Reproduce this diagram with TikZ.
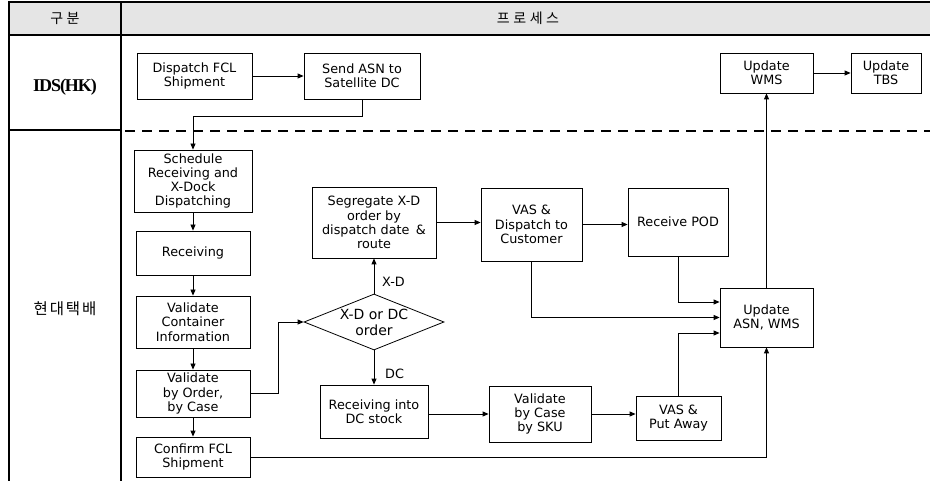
\documentclass[tikz,border=0pt]{standalone}
\usepackage{fontspec}
\setmainfont{DejaVu Sans}
\newfontfamily\krhead[LetterSpace=25]{Noto Sans CJK KR}
\newfontfamily\krrow[LetterSpace=12]{Noto Sans CJK KR}
\newfontfamily\idsfont[LetterSpace=-6]{Liberation Serif}
\usetikzlibrary{shapes.geometric,arrows.meta}
\begin{document}
\begin{tikzpicture}[x=1pt,y=-1pt,
  box/.style={draw, line width=0.8pt, align=center, inner sep=0pt,
    font=\fontsize{12.8}{14.3}\selectfont},
  conn/.style={line width=0.8pt, -{Triangle[length=6pt,width=5pt]}},
  frame/.style={line width=1.6pt},
  lbl/.style={font=\fontsize{12.8}{14}\selectfont, anchor=west, inner sep=0pt}]
\useasboundingbox (0,0) rectangle (930,481);
% table
\fill[gray!20] (8,2) rectangle (930,35);
\draw[frame] (8,2) -- (930,2);
\draw[frame] (8,35) -- (930,35);
\draw[frame] (9,2) -- (9,481);
\draw[frame] (121,2) -- (121,481);
\draw[frame] (9,130) -- (121,130);
\draw[line width=1.6pt, dash pattern=on 10pt off 7pt] (125,131) -- (930,131);
\node[font=\krhead\fontsize{14}{14}\selectfont] (h1) at (65,18) {구분};
\node[font=\krhead\fontsize{14}{14}\selectfont] (h2) at (528,18) {프로세스};
\node[font=\idsfont\bfseries\fontsize{18}{18}\selectfont] (ids) at (65,87) {IDS(HK)};
\node[font=\krrow\fontsize{15.5}{15.5}\selectfont] (hd) at (65,309) {현대택배};
% nodes
\node[box, minimum width=115pt, minimum height=46pt] (d1) at (194.5,76) {Dispatch FCL\\Shipment};
\node[box, minimum width=116pt, minimum height=46pt] (d2) at (362,76) {Send ASN to\\Satellite DC};
\node[box, minimum width=93pt, minimum height=40pt] (uw) at (766.5,73) {Update\\WMS};
\node[box, minimum width=70pt, minimum height=40pt] (ut) at (886,73) {Update\\TBS};
\node[box, minimum width=118pt, minimum height=62pt] (sch) at (193,181) {Schedule\\Receiving and\\X-Dock\\Dispatching};
\node[box, minimum width=114pt, minimum height=44pt] (rcv) at (193,253) {Receiving};
\node[box, minimum width=114pt, minimum height=52pt] (vci) at (193,322) {Validate\\Container\\Information};
\node[box, minimum width=114pt, minimum height=47pt] (vbo) at (193,393.5) {Validate\\by Order,\\by Case};
\node[box, minimum width=114pt, minimum height=40pt] (cfm) at (193,457) {Confirm FCL\\Shipment};
\node[box, minimum width=124pt, minimum height=71pt] (seg) at (374,222.5) {Segregate X-D\\order by\\dispatch date\enspace\&\\route};
\node[draw, diamond, aspect=2.5, line width=0.8pt, inner sep=0pt, align=center,
  minimum width=140pt, minimum height=56pt, font=\fontsize{14}{16}\selectfont] (dia) at (374,322) {X-D or DC\\order};
\node[box, minimum width=108pt, minimum height=53pt] (rdc) at (374,411.5) {Receiving into\\DC stock};
\node[box, minimum width=101pt, minimum height=73pt] (vdc) at (531.5,224.5) {VAS \&\\Dispatch to\\Customer};
\node[box, minimum width=100pt, minimum height=68pt] (pod) at (678,222) {Receive POD};
\node[box, minimum width=93pt, minimum height=59pt] (uasn) at (766.5,317.5) {Update\\ASN, WMS};
\node[box, minimum width=102pt, minimum height=56pt] (vcs) at (540,414) {Validate\\by Case\\by SKU};
\node[box, minimum width=85pt, minimum height=44pt] (vpa) at (678.5,418) {VAS \&\\Put Away};
\node[lbl] (lxd) at (382,282) {X-D};
\node[lbl] (ldc) at (385,374) {DC};
% connectors
\coordinate (k1) at (362,116);
\coordinate (k2) at (278,393.5);
\draw[conn] (d1.east) -- (d2.west);
\draw[conn] (d2.south) -- (k1) -| (sch.north);
\draw[conn] (sch.south) -- (rcv.north);
\draw[conn] (rcv.south) -- (vci.north);
\draw[conn] (vci.south) -- (vbo.north);
\draw[conn] (vbo.south) -- (cfm.north);
\draw[conn] (vbo.east) -- (k2) |- (dia.west);
\draw[conn] (dia.north) -- (seg.south);
\draw[conn] (dia.south) -- (rdc.north);
\draw[conn] (seg.east) -- (seg.east -| vdc.west);
\draw[conn] (vdc.east) -- (vdc.east -| pod.west);
\draw[conn] (pod.south) |- ([yshift=15.5pt]uasn.west);
\draw[conn] (vdc.south) |- (uasn.west);
\draw[conn] (vpa.north) |- ([yshift=-15.5pt]uasn.west);
\draw[conn] (rdc.east |- vcs.west) -- (vcs.west);
\draw[conn] (vcs.east) -- (vcs.east -| vpa.west);
\draw[conn] (cfm.east) -| (uasn.south);
\draw[conn] (uasn.north) -- (uw.south);
\draw[conn] (uw.east) -- (uw.east -| ut.west);
\end{tikzpicture}
\end{document}
